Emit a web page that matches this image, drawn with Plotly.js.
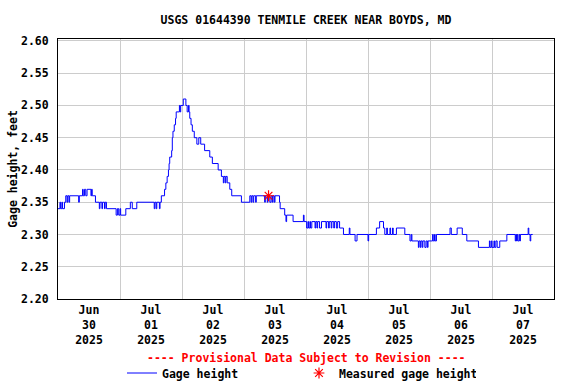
<!DOCTYPE html>
<html>
<head>
<meta charset="utf-8">
<script src="https://cdn.plot.ly/plotly-3.0.1.min.js"></script>
<style>html,body{margin:0;padding:0;background:#fff;} #chart{width:576px;height:384px;}</style>
</head>
<body>
<div id="chart"></div>
<script>
const chartTitle = "USGS 01644390 TENMILE CREEK NEAR BOYDS, MD";
const yTitle = "Gage height, feet";
const provisionalNote = "---- Provisional Data Subject to Revision ----";
const seriesName = "Gage height";
const measuredName = "Measured gage height";

const gageTimes = [
"2025-06-30 00:00","2025-06-30 00:45","2025-06-30 01:00","2025-06-30 01:30","2025-06-30 01:45","2025-06-30 02:30",
"2025-06-30 03:00","2025-06-30 03:30","2025-06-30 03:45","2025-06-30 04:15","2025-06-30 04:30","2025-06-30 08:00",
"2025-06-30 08:15","2025-06-30 09:30","2025-06-30 09:45","2025-06-30 10:15","2025-06-30 10:45","2025-06-30 11:15",
"2025-06-30 12:45","2025-06-30 13:00","2025-06-30 13:15","2025-06-30 14:30","2025-06-30 16:00","2025-06-30 16:15",
"2025-06-30 17:00","2025-06-30 17:15","2025-06-30 18:00","2025-06-30 18:15","2025-06-30 18:45","2025-06-30 22:30",
"2025-06-30 23:00","2025-06-30 23:30",
"2025-07-01 00:00","2025-07-01 00:15","2025-07-01 02:15","2025-07-01 04:00","2025-07-01 04:45","2025-07-01 06:30",
"2025-07-01 13:15","2025-07-01 13:30","2025-07-01 14:00","2025-07-01 14:15","2025-07-01 15:15","2025-07-01 15:30",
"2025-07-01 16:00","2025-07-01 17:15","2025-07-01 17:45","2025-07-01 18:15","2025-07-01 18:45","2025-07-01 19:00",
"2025-07-01 19:15","2025-07-01 20:00","2025-07-01 20:15","2025-07-01 20:30","2025-07-01 21:00","2025-07-01 21:30",
"2025-07-01 21:45","2025-07-01 23:00","2025-07-01 23:15","2025-07-01 23:30",
"2025-07-02 00:30","2025-07-02 01:30","2025-07-02 02:00","2025-07-02 02:30","2025-07-02 02:45","2025-07-02 03:00",
"2025-07-02 03:30","2025-07-02 04:00","2025-07-02 04:45","2025-07-02 05:45","2025-07-02 06:30","2025-07-02 07:15",
"2025-07-02 08:45","2025-07-02 10:45","2025-07-02 11:45","2025-07-02 14:00","2025-07-02 15:15","2025-07-02 16:00",
"2025-07-02 16:15","2025-07-02 16:45","2025-07-02 17:00","2025-07-02 17:30","2025-07-02 18:30","2025-07-02 19:15",
"2025-07-02 23:00",
"2025-07-03 02:15","2025-07-03 02:45","2025-07-03 03:00","2025-07-03 03:30","2025-07-03 03:45","2025-07-03 04:30",
"2025-07-03 04:45","2025-07-03 08:00","2025-07-03 08:15","2025-07-03 09:00","2025-07-03 09:15","2025-07-03 10:00",
"2025-07-03 10:30","2025-07-03 11:00","2025-07-03 11:15","2025-07-03 11:45","2025-07-03 12:00","2025-07-03 13:45",
"2025-07-03 14:00","2025-07-03 15:45","2025-07-03 16:15","2025-07-03 16:30","2025-07-03 19:00","2025-07-03 23:00",
"2025-07-03 23:15",
"2025-07-04 00:15","2025-07-04 00:45","2025-07-04 01:00","2025-07-04 01:30","2025-07-04 01:45","2025-07-04 02:15",
"2025-07-04 03:30","2025-07-04 03:45","2025-07-04 04:15","2025-07-04 04:30","2025-07-04 05:15","2025-07-04 06:00",
"2025-07-04 07:45","2025-07-04 08:00","2025-07-04 08:45","2025-07-04 09:00","2025-07-04 09:45","2025-07-04 10:00",
"2025-07-04 10:45","2025-07-04 11:00","2025-07-04 11:45","2025-07-04 12:15","2025-07-04 13:00","2025-07-04 14:30",
"2025-07-04 16:45","2025-07-04 17:00","2025-07-04 19:00","2025-07-04 19:45",
"2025-07-05 00:00","2025-07-05 00:15","2025-07-05 03:15","2025-07-05 04:30","2025-07-05 06:00","2025-07-05 06:30",
"2025-07-05 07:15","2025-07-05 07:30","2025-07-05 08:30","2025-07-05 08:45","2025-07-05 09:30","2025-07-05 09:45",
"2025-07-05 11:00","2025-07-05 14:15","2025-07-05 16:15","2025-07-05 16:45","2025-07-05 17:00","2025-07-05 19:30",
"2025-07-05 19:45","2025-07-05 20:15","2025-07-05 20:30","2025-07-05 21:00","2025-07-05 21:15","2025-07-05 22:00",
"2025-07-05 22:30","2025-07-05 23:00","2025-07-05 23:15",
"2025-07-06 01:00","2025-07-06 01:15","2025-07-06 01:45","2025-07-06 02:00","2025-07-06 02:30","2025-07-06 07:45",
"2025-07-06 08:15","2025-07-06 10:30","2025-07-06 12:30","2025-07-06 14:15","2025-07-06 18:45","2025-07-06 23:00",
"2025-07-06 23:15","2025-07-06 23:45",
"2025-07-07 00:00","2025-07-07 00:45","2025-07-07 01:00","2025-07-07 01:30","2025-07-07 02:00","2025-07-07 03:00",
"2025-07-07 05:45","2025-07-07 09:00","2025-07-07 09:15","2025-07-07 09:30","2025-07-07 09:45","2025-07-07 10:00",
"2025-07-07 10:30","2025-07-07 10:45","2025-07-07 11:00","2025-07-07 14:00","2025-07-07 14:15","2025-07-07 14:45",
"2025-07-07 15:00","2025-07-07 15:45"
];
const gageValues = [
2.34,2.35,2.34,2.35,2.34,2.35,
2.36,2.35,2.36,2.35,2.36,2.35,
2.36,2.37,2.36,2.37,2.36,2.37,
2.36,2.37,2.36,2.35,2.34,2.35,
2.34,2.35,2.34,2.35,2.34,2.33,
2.34,2.33,
2.34,2.33,2.34,2.35,2.34,2.35,
2.34,2.35,2.34,2.35,2.34,2.35,
2.36,2.37,2.38,2.39,2.40,2.41,
2.42,2.43,2.45,2.46,2.47,2.48,
2.49,2.50,2.49,2.50,
2.51,2.50,2.49,2.50,2.49,2.48,
2.47,2.46,2.45,2.44,2.45,2.44,
2.43,2.42,2.41,2.40,2.39,2.38,
2.39,2.38,2.39,2.38,2.37,2.36,
2.35,
2.36,2.35,2.36,2.35,2.36,2.35,
2.36,2.35,2.36,2.35,2.36,2.35,
2.36,2.35,2.36,2.35,2.36,2.35,
2.34,2.33,2.32,2.33,2.32,2.33,
2.32,
2.31,2.32,2.31,2.32,2.31,2.32,
2.31,2.32,2.31,2.32,2.31,2.32,
2.31,2.32,2.31,2.32,2.31,2.32,
2.31,2.32,2.31,2.32,2.31,2.30,
2.31,2.30,2.29,2.30,
2.29,2.30,2.31,2.32,2.31,2.30,
2.31,2.30,2.31,2.30,2.31,2.30,
2.31,2.30,2.29,2.30,2.29,2.28,
2.29,2.28,2.29,2.28,2.29,2.28,
2.29,2.28,2.29,
2.30,2.29,2.30,2.29,2.30,2.31,
2.30,2.31,2.30,2.29,2.28,2.29,
2.28,2.29,
2.28,2.29,2.28,2.29,2.28,2.29,
2.30,2.29,2.30,2.29,2.30,2.29,
2.30,2.29,2.30,2.31,2.30,2.29,
2.30,2.30
];

const measuredTimes = ["2025-07-03 09:30"];
const measuredValues = [2.36];

const xRange = ["2025-06-30 00:00", "2025-07-08 00:00"];
const yRange = [2.20, 2.603];
const yTicks = [2.20, 2.25, 2.30, 2.35, 2.40, 2.45, 2.50, 2.55, 2.60];
const dayGridTimes = ["2025-07-01","2025-07-02","2025-07-03","2025-07-04","2025-07-05","2025-07-06","2025-07-07"];
const tickTimes = ["2025-06-30 12:00","2025-07-01 12:00","2025-07-02 12:00","2025-07-03 12:00",
                   "2025-07-04 12:00","2025-07-05 12:00","2025-07-06 12:00","2025-07-07 12:00"];
const tickMonths = ["Jun","Jul","Jul","Jul","Jul","Jul","Jul","Jul"];
const tickDays = ["30","01","02","03","04","05","06","07"];
const tickYears = ["2025","2025","2025","2025","2025","2025","2025","2025"];

const FONT = '"DejaVu Sans Mono", "Liberation Mono", monospace';
const tickText = tickMonths.map((m, i) => `<b>${m}<br>${tickDays[i]}<br>${tickYears[i]}</b>`);

const traces = [
  {
    x: gageTimes, y: gageValues, type: 'scatter', mode: 'lines',
    name: `<b>${seriesName}</b>`,
    line: {color: '#0000ff', width: 1, shape: 'hv'},
    hoverinfo: 'skip'
  },
  {
    x: measuredTimes, y: measuredValues, type: 'scatter', mode: 'markers',
    name: `<b>${measuredName}</b>`,
    marker: {symbol: 'asterisk-open', size: 9, color: '#ff0000', line: {color: '#ff0000', width: 1.2}},
    hoverinfo: 'skip'
  }
];

const layout = {
  width: 576, height: 384,
  margin: {l: 58, r: 22, t: 39, b: 85, pad: 0, autoexpand: false},
  paper_bgcolor: '#ffffff', plot_bgcolor: '#ffffff',
  font: {family: FONT, size: 11.5, color: '#000000'},
  title: {text: `<b>${chartTitle}</b>`, x: 0.5, xref: 'paper', xanchor: 'center',
          y: 1 - 20/384, yref: 'container', yanchor: 'middle',
          font: {family: FONT, size: 11.5, color: '#000'}},
  xaxis: {
    type: 'date', range: xRange, tickmode: 'array', tickvals: tickTimes, ticktext: tickText,
    showgrid: false, ticks: '', showline: true, linecolor: '#000', linewidth: 1, mirror: true,
    zeroline: false, tickfont: {family: FONT, size: 11.5, color: '#000'},
    minor: {tickmode: 'array', tickvals: dayGridTimes, showgrid: true, gridcolor: '#cccccc', gridwidth: 1, ticks: ''},
    fixedrange: true
  },
  yaxis: {
    range: yRange, tickmode: 'array', tickvals: yTicks,
    ticktext: yTicks.map(v => `<b>${v.toFixed(2)}</b>`),
    showgrid: true, gridcolor: '#cccccc', gridwidth: 1, ticks: '', ticklabelstandoff: 6,
    showline: true, linecolor: '#000', linewidth: 1, mirror: true, zeroline: false,
    tickfont: {family: FONT, size: 11.5, color: '#000'},
    title: {text: `<b>${yTitle}</b>`, standoff: 0, font: {family: FONT, size: 11.5, color: '#000'}},
    fixedrange: true
  },
  showlegend: true,
  legend: {
    orientation: 'h', xref: 'container', yref: 'container',
    x: 122/576, xanchor: 'left', y: 1 - 373/384, yanchor: 'middle',
    font: {family: FONT, size: 11.5, color: '#000'}, itemwidth: 30,
    entrywidth: 132, entrywidthmode: 'pixels', bgcolor: 'rgba(0,0,0,0)', tracegroupgap: 0
  },
  annotations: [{
    text: `<b>${provisionalNote}</b>`, xref: 'paper', yref: 'paper', x: 0.5, y: (299 - 358) / 260,
    xanchor: 'center', yanchor: 'middle', showarrow: false,
    font: {family: FONT, size: 11.5, color: '#ff0000'}
  }]
};

Plotly.newPlot('chart', traces, layout, {displayModeBar: false, staticPlot: true});
</script>
</body>
</html>
